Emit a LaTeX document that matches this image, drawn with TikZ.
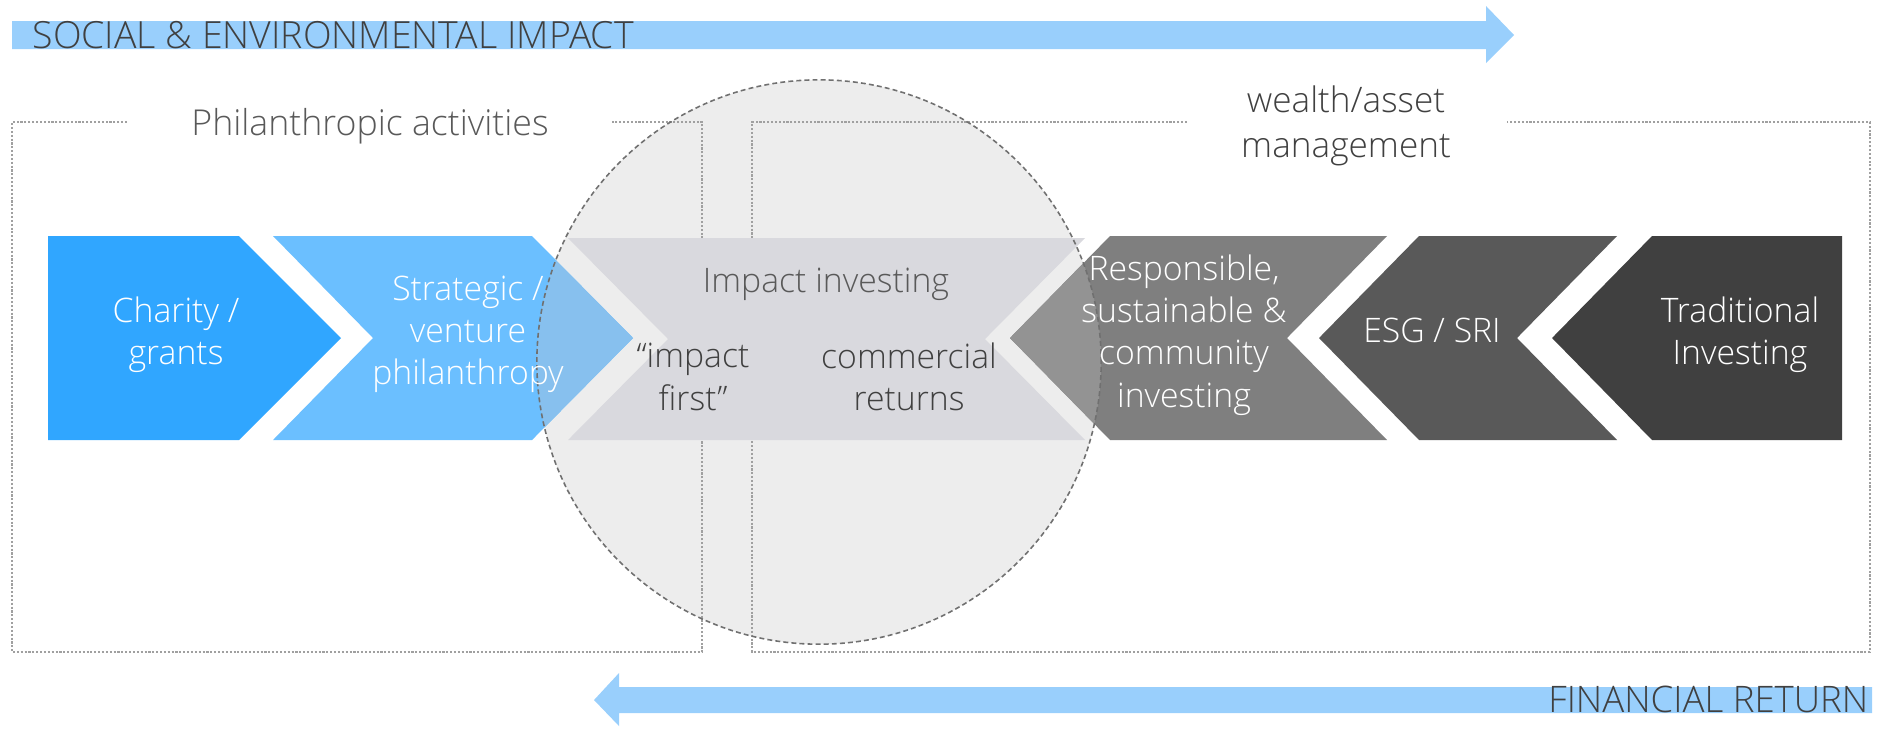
\documentclass[tikz,border=0pt]{standalone}
\usepackage{fontspec}
\setmainfont{Open Sans}[UprightFont=* Light]
\definecolor{arrowblue}{HTML}{99CFFC}
\definecolor{charityblue}{HTML}{30A6FF}
\definecolor{ventureblue}{HTML}{6BBFFF}
\definecolor{venturemix}{HTML}{87C0EE}
\definecolor{bandgray}{HTML}{D9D9DE}
\definecolor{circlegray}{HTML}{EDEDED}
\definecolor{respgray}{HTML}{7F7F7F}
\definecolor{respmix}{HTML}{939393}
\definecolor{esggray}{HTML}{595959}
\definecolor{tradgray}{HTML}{404040}
\definecolor{textdark}{HTML}{404040}
\definecolor{textmid}{HTML}{595959}
\definecolor{boxline}{HTML}{A0A0A0}
\definecolor{circleline}{HTML}{707070}
\tikzset{
	label text/.style = {
		font = \fontsize{9.6}{12}\selectfont,
		align = center,
		inner sep = 0pt
	},
	white text/.style = {label text, text = white},
	dark text/.style = {label text, text = textdark},
	mid text/.style = {label text, text = textmid},
	axis text/.style = {
		font = \fontsize{10.4}{12}\selectfont,
		text = textdark,
		inner sep = 0pt
	},
	area/.style = {
		draw = boxline,
		line width = 0.35pt,
		dash pattern = on 0.6pt off 0.5pt
	},
	zone/.style = {
		draw = circleline,
		line width = 0.45pt,
		dash pattern = on 1.4pt off 0.9pt
	}
}

\begin{document}
\begin{tikzpicture}[x=0.01cm, y=-0.01cm]
	\useasboundingbox (0,0) rectangle (1880,729);

	% the two axes
	\fill[arrowblue] (12,21) -- (1486,21) -- (1486,6) -- (1514,35) -- (1486,63) -- (1486,49) -- (12,49) -- cycle;
	\node[axis text, font=\fontsize{10.65}{12}\selectfont, anchor=base west] (social) at (32,48) {SOCIAL \& ENVIRONMENTAL IMPACT};
	\fill[arrowblue] (1872,687) -- (619,687) -- (619,673) -- (594,700) -- (619,726) -- (619,713) -- (1872,713) -- cycle;
	\node[axis text, anchor=base east] (financial) at (1869,712) {FINANCIAL RETURN};

	% impact investing circle
	\fill[circlegray] (819,362) circle [radius=2.82cm];

	% dotted areas
	\draw[area] (127,122) -- (12,122) -- (12,652) -- (702,652) -- (702,122) -- (612,122);
	\draw[area] (1187,122) -- (752,122) -- (752,652) -- (1870,652) -- (1870,122) -- (1507,122);
	\node[label text, text=textmid, font=\fontsize{10.15}{12}\selectfont, anchor=base] (philanthropic) at (370,135) {Philanthropic activities};
	\node[dark text, font=\fontsize{10}{12.8}\selectfont] (wealth) at (1346,126) {wealth/asset\\management};

	% chevrons
	\fill[charityblue] (48,236) -- (239,236) -- (341,338) -- (239,440) -- (48,440) -- cycle;
	\fill[ventureblue] (273,236) -- (532,236) -- (633,338) -- (532,440) -- (273,440) -- (373,338) -- cycle;
	\fill[respgray] (1110,236) -- (1387,236) -- (1287,338) -- (1387,440) -- (1110,440) -- (1010,338) -- cycle;
	\fill[esggray] (1419,236) -- (1617,236) -- (1517,338) -- (1617,440) -- (1419,440) -- (1319,338) -- cycle;
	\fill[tradgray] (1652,236) -- (1842,236) -- (1842,440) -- (1652,440) -- (1552,338) -- cycle;

	\begin{scope}
		\clip (819,362) circle [radius=2.82cm];
		\fill[venturemix] (273,236) -- (532,236) -- (633,338) -- (532,440) -- (273,440) -- (373,338) -- cycle;
		\fill[respmix] (1110,236) -- (1387,236) -- (1287,338) -- (1387,440) -- (1110,440) -- (1010,338) -- cycle;
	\end{scope}

	\fill[bandgray] (568,238) -- (1085,238) -- (985,339) -- (1085,440) -- (568,440) -- (668,339) -- cycle;
	\draw[zone] (819,362) circle [radius=2.82cm];

	% texts
	\node[white text] (charity) at (176,335) {Charity /\\grants};
	\node[white text] (venture) at (468,334) {Strategic /\\venture\\philanthropy};
	\node[mid text, anchor=base] (impact) at (826,292) {Impact investing};
	\node[dark text] (first) at (693,377) {``impact\\first''};
	\node[dark text] (commercial) at (909,377) {commercial\\returns};
	\node[white text] (responsible) at (1184,335) {Responsible,\\sustainable \&\\community\\investing};
	\node[white text, anchor=base] (esg) at (1432,342) {ESG / SRI};
	\node[white text] (traditional) at (1740,335) {Traditional\\Investing};
\end{tikzpicture}
\end{document}
